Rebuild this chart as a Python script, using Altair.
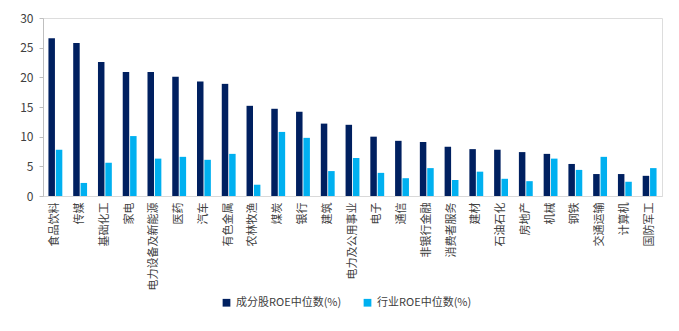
import altair as alt
import pandas as pd

categories = ["食品饮料", "传媒", "基础化工", "家电", "电力设备及新能源", "医药", "汽车", "有色金属",
              "农林牧渔", "煤炭", "银行", "建筑", "电力及公用事业", "电子", "通信", "非银行金融",
              "消费者服务", "建材", "石油石化", "房地产", "机械", "钢铁", "交通运输", "计算机", "国防军工"]
stock_roe = [26.6, 25.8, 22.6, 20.9, 20.9, 20.1, 19.3, 18.9, 15.2, 14.7, 14.2, 12.2,
             12.0, 10.0, 9.3, 9.1, 8.3, 7.9, 7.8, 7.4, 7.1, 5.4, 3.7, 3.7, 3.4]
industry_roe = [7.8, 2.2, 5.6, 10.1, 6.3, 6.6, 6.1, 7.1, 1.9, 10.8, 9.8, 4.2,
                6.4, 3.9, 3.0, 4.7, 2.7, 4.1, 2.9, 2.5, 6.3, 4.4, 6.6, 2.4, 4.7]
series_names = ["成分股ROE中位数(%)", "行业ROE中位数(%)"]
colors = ["#002060", "#00B0F0"]

rows = []
for i, c in enumerate(categories):
    rows.append({"cat": c, "series": series_names[0], "value": stock_roe[i]})
    rows.append({"cat": c, "series": series_names[1], "value": industry_roe[i]})
df = pd.DataFrame(rows)

font = "Noto Sans CJK SC"

chart = alt.Chart(df).mark_bar().encode(
    x=alt.X("cat:N", sort=categories, title=None,
            scale=alt.Scale(paddingInner=0.44, paddingOuter=0.22),
            axis=alt.Axis(labelAngle=-90, labelAlign="right", labelBaseline="middle",
                          labelPadding=6, ticks=False, domainColor="#D9D9D9",
                          labelFont=font, labelFontSize=11, labelColor="#404040",
                          labelLimit=200)),
    xOffset=alt.XOffset("series:N", sort=series_names, scale=alt.Scale(paddingInner=0.12)),
    y=alt.Y("value:Q", title=None,
            scale=alt.Scale(domain=[0, 30], nice=False),
            axis=alt.Axis(values=[0, 5, 10, 15, 20, 25, 30], grid=False,
                          domainColor="#BFBFBF", tickColor="#BFBFBF", tickSize=4,
                          labelFont=font, labelFontSize=12, labelColor="#404040",
                          labelPadding=6)),
    color=alt.Color("series:N", sort=series_names,
                    scale=alt.Scale(domain=series_names, range=colors),
                    legend=alt.Legend(title=None, orient="none", legendX=178, legendY=279,
                                      direction="horizontal", symbolType="square",
                                      symbolSize=60, symbolStrokeWidth=0,
                                      labelFont=font, labelFontSize=11, labelColor="#404040",
                                      columnPadding=20)),
).properties(
    width=619, height=178,
    autosize=alt.AutoSizeParams(type="none"),
    padding={"left": 43, "top": 18, "right": 17, "bottom": 135},
).configure_view(stroke=None).configure(background="white")

chart.save("out.html", embed_options={"renderer": "svg", "actions": False})
